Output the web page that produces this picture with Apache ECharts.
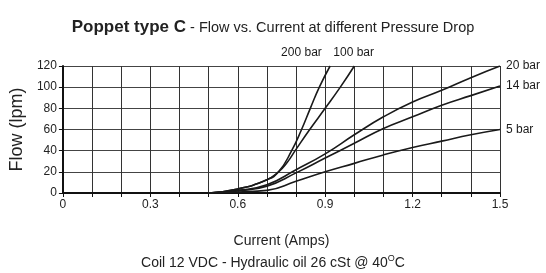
<!DOCTYPE html>
<html>
<head>
<meta charset="utf-8">
<script src="https://cdn.jsdelivr.net/npm/echarts@6/dist/echarts.min.js"></script>
<style>
html, body { margin: 0; padding: 0; background: #fff; }
#main { width: 546px; height: 273px; }
</style>
</head>
<body>
<div id="main"></div>
<script>
// tick labels
var xLabels = ['0', '0.3', '0.6', '0.9', '1.2', '1.5'];
var yLabels = ['0', '20', '40', '60', '80', '100', '120'];

// series: [current (A), flow (lpm)]
var seriesNames = ['200 bar', '100 bar', '20 bar', '14 bar', '5 bar'];
var bar200 = [[0.5, 0], [0.6, 3.8], [0.7, 12.5], [0.74, 20], [0.785, 40], [0.819, 60], [0.849, 80], [0.88, 100], [0.917, 120]];
var bar100 = [[0.5, 0], [0.6, 3.8], [0.7, 12.5], [0.74, 20], [0.77, 29], [0.797, 40], [0.847, 60], [0.9, 80], [0.952, 100], [1.0, 120]];
var bar20 = [[0.5, 0], [0.6, 2.5], [0.7, 7.8], [0.8, 22], [0.9, 37], [1.0, 55], [1.1, 72], [1.2, 86], [1.3, 97], [1.4, 109], [1.5, 120]];
var bar14 = [[0.5, 0], [0.6, 2], [0.7, 6.5], [0.8, 19], [0.9, 33], [1.0, 47], [1.1, 61], [1.2, 72], [1.3, 83], [1.4, 92], [1.5, 101]];
var bar5 = [[0.5, 0], [0.6, 1], [0.7, 2.5], [0.8, 11], [0.9, 20], [1.0, 28], [1.1, 36], [1.2, 43], [1.3, 49], [1.4, 55], [1.5, 60]];

var font = 'Liberation Sans';

function line(name, data, offset) {
    return {
        name: name,
        type: 'line',
        data: data,
        smooth: 0.5,
        showSymbol: false,
        lineStyle: { color: '#1a1a1a', width: 1.6 },
        endLabel: {
            show: true,
            formatter: name,
            color: '#1a1a1a',
            fontFamily: font,
            fontSize: 12,
            distance: 6,
            offset: offset
        },
        silent: true
    };
}

var myChart = echarts.init(document.getElementById('main'));
var option = {
    animation: false,
    title: {
        text: '{b|Poppet type C}{r| - Flow vs. Current at different Pressure Drop}',
        left: 'center',
        top: 14,
        textStyle: {
            rich: {
                b: { fontFamily: font, fontWeight: 'bold', fontSize: 17, color: '#222' },
                r: { fontFamily: font, fontWeight: 'normal', fontSize: 14.5, color: '#222' }
            }
        }
    },
    graphic: [{
        type: 'text',
        left: 'center',
        top: 254,
        style: {
            text: 'Coil 12 VDC - Hydraulic oil 26 cSt @ 40{s|O}C',
            fontFamily: font,
            fontSize: 14,
            fill: '#222',
            rich: { s: { fontSize: 9, verticalAlign: 'top', padding: [0, 0, 9, 0], fill: '#222', fontFamily: font } }
        }
    }],
    grid: { left: 62, right: 46, top: 66, bottom: 80 },
    xAxis: {
        type: 'value',
        min: 0,
        max: 1.5,
        interval: 0.1,
        name: 'Current (Amps)',
        nameLocation: 'middle',
        nameGap: 41,
        nameTextStyle: { fontFamily: font, fontSize: 14, color: '#222' },
        axisLine: { lineStyle: { color: '#111', width: 2 } },
        axisTick: { show: true, length: 4, lineStyle: { color: '#111' } },
        axisLabel: {
            fontFamily: font, fontSize: 12, color: '#222', margin: 6,
            formatter: function (v) {
                var k = Math.round(v * 10);
                return k % 3 === 0 ? xLabels[k / 3] : '';
            }
        },
        splitLine: { show: true, lineStyle: { color: '#333', width: 1 } }
    },
    yAxis: {
        type: 'value',
        min: 0,
        max: 120,
        interval: 20,
        name: 'Flow (lpm)',
        nameLocation: 'middle',
        nameGap: 34,
        nameTextStyle: { fontFamily: font, fontSize: 18, color: '#222' },
        axisLine: { show: true, lineStyle: { color: '#111', width: 2 } },
        axisTick: { show: true, length: 4, lineStyle: { color: '#111' } },
        axisLabel: {
            fontFamily: font, fontSize: 12, color: '#222', margin: 6,
            formatter: function (v) { return yLabels[Math.round(v / 20)]; }
        },
        splitLine: { show: true, lineStyle: { color: '#444', width: 1 } }
    },
    series: [
        line(seriesNames[0], bar200, [-55, -13]),
        line(seriesNames[1], bar100, [-27, -13]),
        line(seriesNames[2], bar20, [0, 0]),
        line(seriesNames[3], bar14, [0, 0]),
        line(seriesNames[4], bar5, [0, 0])
    ]
};
myChart.setOption(option);
</script>
</body>
</html>
